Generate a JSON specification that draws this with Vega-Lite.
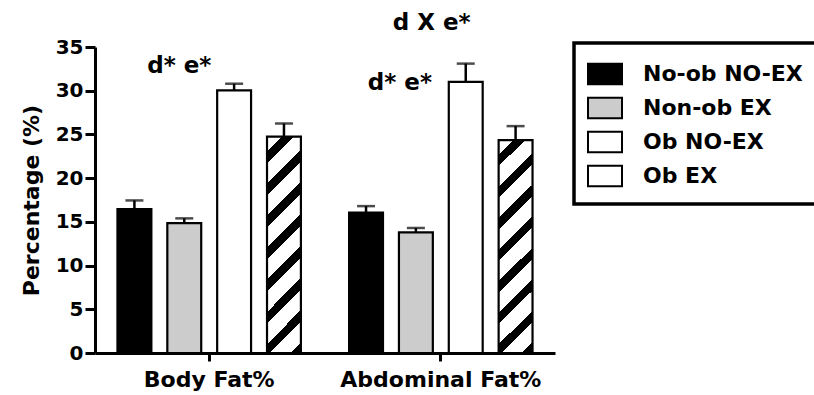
{
  "$schema": "https://vega.github.io/schema/vega-lite/v6.json",
  "width": 460,
  "height": 306,
  "autosize": {"type": "none"},
  "padding": {"left": 95, "top": 47, "right": 259, "bottom": 42},
  "background": "white",
  "view": {"stroke": null},
  "config": {
    "font": "DejaVu Sans",
    "axis": {
      "labelFont": "DejaVu Sans",
      "labelFontWeight": "bold",
      "labelColor": "black",
      "titleFont": "DejaVu Sans",
      "titleFontWeight": "bold",
      "titleColor": "black",
      "domainColor": "black",
      "domainWidth": 3,
      "tickColor": "black",
      "tickWidth": 3,
      "grid": false
    },
    "legend": {"strokeWidth": 3.5}
  },
  "data": {
    "values": [
      {"measure": "Body Fat%", "group": "No-ob NO-EX", "pct": 16.45, "upper": 17.45},
      {"measure": "Body Fat%", "group": "Non-ob EX", "pct": 14.85, "upper": 15.4},
      {"measure": "Body Fat%", "group": "Ob NO-EX", "pct": 30.05, "upper": 30.8},
      {"measure": "Body Fat%", "group": "Ob EX", "pct": 24.75, "upper": 26.25},
      {"measure": "Abdominal Fat%", "group": "No-ob NO-EX", "pct": 16.05, "upper": 16.8},
      {"measure": "Abdominal Fat%", "group": "Non-ob EX", "pct": 13.8, "upper": 14.3},
      {"measure": "Abdominal Fat%", "group": "Ob NO-EX", "pct": 31.0, "upper": 33.1},
      {"measure": "Abdominal Fat%", "group": "Ob EX", "pct": 24.35, "upper": 25.95}
    ]
  },
  "encoding": {
    "x": {
      "field": "measure",
      "type": "nominal",
      "sort": ["Body Fat%", "Abdominal Fat%"],
      "scale": {"paddingInner": 0.208, "paddingOuter": 0.097},
      "axis": {
        "title": null,
        "labelAngle": 0,
        "labelFontSize": 22,
        "labelPadding": 8,
        "labelLimit": 400,
        "tickSize": 8
      }
    },
    "xOffset": {
      "field": "group",
      "type": "nominal",
      "scale": {
        "domain": ["No-ob NO-EX", "Non-ob EX", "Ob NO-EX", "Ob EX"],
        "paddingInner": 0.32,
        "paddingOuter": 0
      }
    }
  },
  "layer": [
    {
      "mark": {"type": "rule", "color": "black", "strokeWidth": 2.5},
      "encoding": {
        "y": {"field": "pct", "type": "quantitative"},
        "y2": {"field": "upper"}
      }
    },
    {
      "mark": {"type": "tick", "color": "black", "size": 18, "thickness": 2.5},
      "encoding": {
        "y": {"field": "upper", "type": "quantitative"}
      }
    },
    {
      "mark": {"type": "bar", "stroke": "black", "strokeWidth": 2.2},
      "encoding": {
        "y": {
          "field": "pct",
          "type": "quantitative",
          "scale": {"domain": [0, 35], "nice": false},
          "axis": {
            "values": [0, 5, 10, 15, 20, 25, 30, 35],
            "labelFontSize": 20,
            "labelPadding": 2,
            "tickSize": 10,
            "title": "Percentage (%)",
            "titleFontSize": 22,
            "titlePadding": 12
          }
        },
        "fill": {
          "condition": {
            "test": "datum.group === 'Ob EX'",
            "value": {
              "gradient": "linear",
              "x1": 0, "y1": 0, "x2": 0.178, "y2": 1.13,
              "stops": [
                {"offset": 0, "color": "white"},
                {"offset": 0.06, "color": "white"}, {"offset": 0.06, "color": "black"},
                {"offset": 0.106, "color": "black"}, {"offset": 0.106, "color": "white"},
                {"offset": 0.188, "color": "white"}, {"offset": 0.188, "color": "black"},
                {"offset": 0.234, "color": "black"}, {"offset": 0.234, "color": "white"},
                {"offset": 0.316, "color": "white"}, {"offset": 0.316, "color": "black"},
                {"offset": 0.362, "color": "black"}, {"offset": 0.362, "color": "white"},
                {"offset": 0.444, "color": "white"}, {"offset": 0.444, "color": "black"},
                {"offset": 0.49, "color": "black"}, {"offset": 0.49, "color": "white"},
                {"offset": 0.572, "color": "white"}, {"offset": 0.572, "color": "black"},
                {"offset": 0.618, "color": "black"}, {"offset": 0.618, "color": "white"},
                {"offset": 0.7, "color": "white"}, {"offset": 0.7, "color": "black"},
                {"offset": 0.746, "color": "black"}, {"offset": 0.746, "color": "white"},
                {"offset": 0.828, "color": "white"}, {"offset": 0.828, "color": "black"},
                {"offset": 0.874, "color": "black"}, {"offset": 0.874, "color": "white"},
                {"offset": 0.956, "color": "white"}, {"offset": 0.956, "color": "black"},
                {"offset": 1, "color": "black"}
              ]
            }
          },
          "field": "group",
          "type": "nominal",
          "scale": {
            "domain": ["No-ob NO-EX", "Non-ob EX", "Ob NO-EX", "Ob EX"],
            "range": ["black", "#cccccc", "white", "white"]
          },
          "legend": {
            "title": null,
            "orient": "none",
            "legendX": 479,
            "legendY": -4,
            "symbolType": "M-1,-0.6H1V0.6H-1Z",
            "symbolSize": 1156,
            "symbolStrokeColor": "black",
            "symbolStrokeWidth": 2,
            "symbolOpacity": 1,
            "labelFont": "DejaVu Sans",
            "labelFontWeight": "bold",
            "labelFontSize": 22,
            "labelColor": "black",
            "labelOffset": 20,
            "labelLimit": 300,
            "rowPadding": 1,
            "padding": 13,
            "strokeColor": "black"
          }
        }
      }
    },
    {
      "data": {"values": [{"measure": "Body Fat%", "group": "Non-ob EX", "y": 32.0, "note": "d* e*"}]},
      "mark": {"type": "text", "font": "DejaVu Sans", "fontWeight": "bold", "fontSize": 23, "color": "black", "baseline": "alphabetic", "dx": -5},
      "encoding": {
        "y": {"field": "y", "type": "quantitative"},
        "text": {"field": "note"}
      }
    },
    {
      "data": {"values": [{"measure": "Abdominal Fat%", "group": "Non-ob EX", "y": 30.05, "note": "d* e*"}]},
      "mark": {"type": "text", "font": "DejaVu Sans", "fontWeight": "bold", "fontSize": 23, "color": "black", "baseline": "alphabetic", "dx": -16},
      "encoding": {
        "y": {"field": "y", "type": "quantitative"},
        "text": {"field": "note"}
      }
    },
    {
      "data": {"values": [{"measure": "Abdominal Fat%", "group": "Ob NO-EX", "y": 37.0, "note": "d X e*"}]},
      "mark": {"type": "text", "font": "DejaVu Sans", "fontWeight": "bold", "fontSize": 23, "color": "black", "baseline": "alphabetic", "dx": -34},
      "encoding": {
        "y": {"field": "y", "type": "quantitative"},
        "text": {"field": "note"}
      }
    }
  ]
}
